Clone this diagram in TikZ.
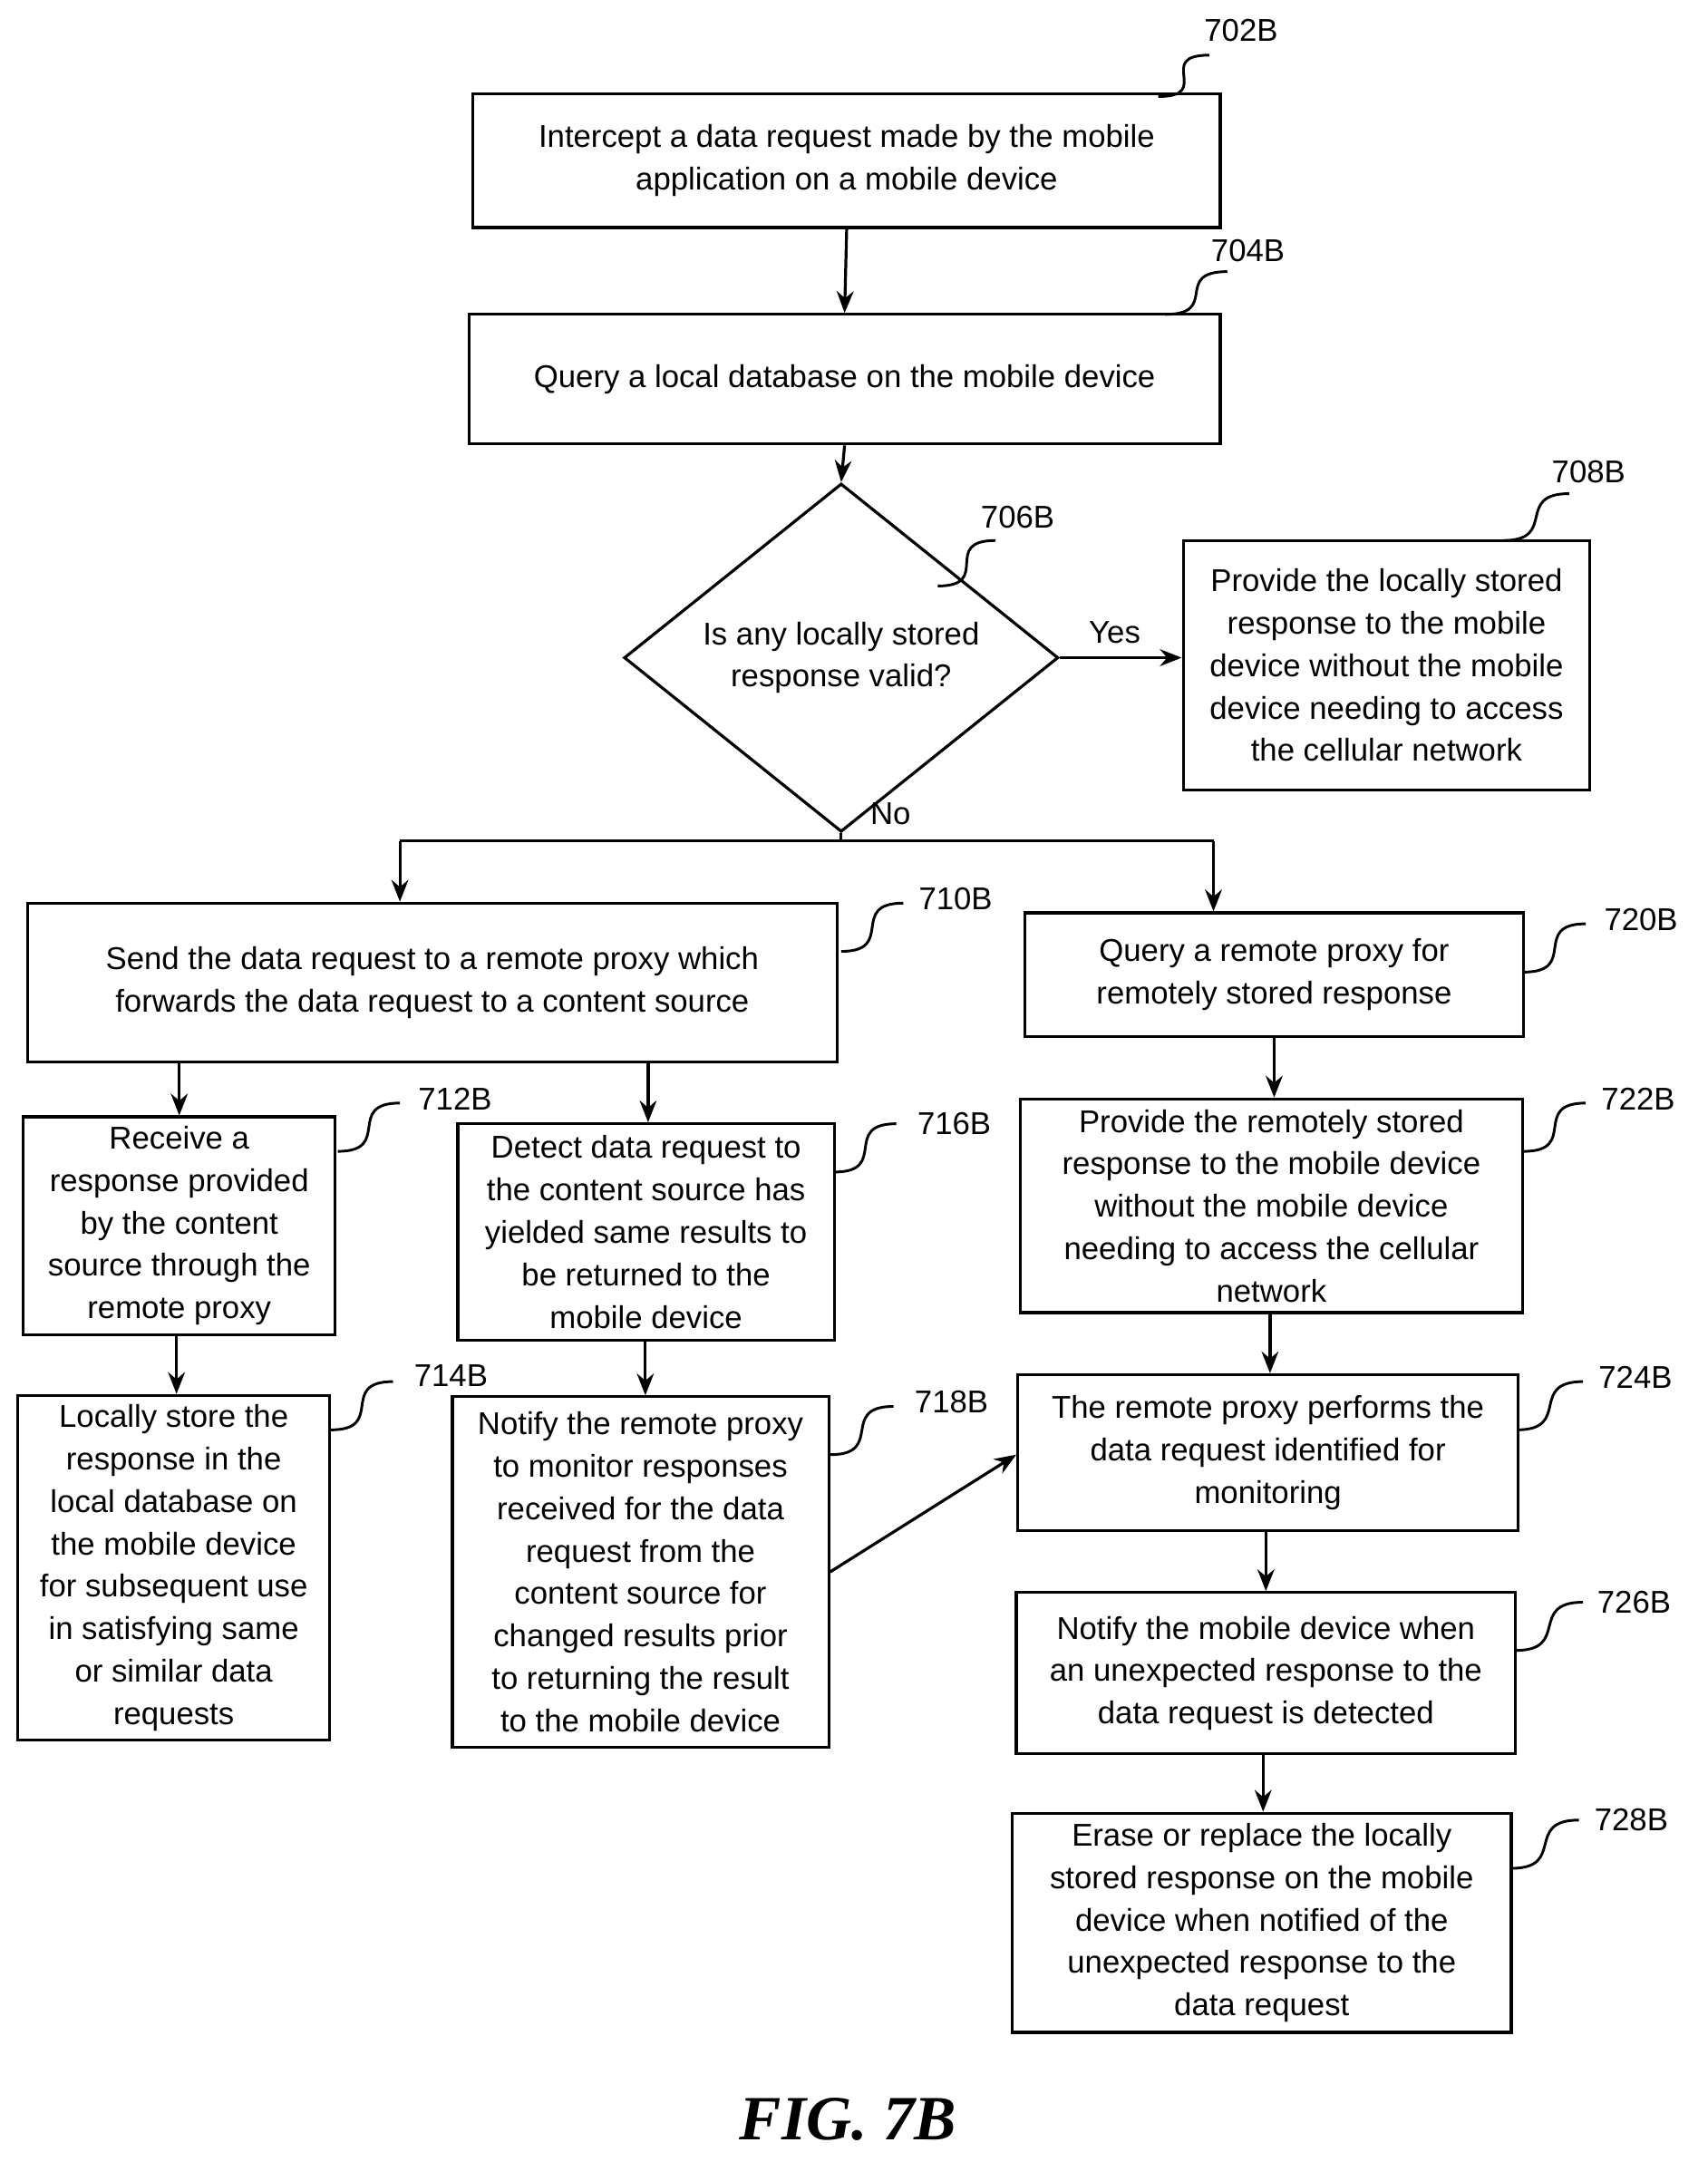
\documentclass[tikz,border=0pt]{standalone}
\usepackage{fontspec}
\setmainfont{Liberation Sans}
\usetikzlibrary{shapes.geometric,arrows.meta}
\begin{document}
\begin{tikzpicture}[x=0.02cm,y=-0.02cm,
 box/.style={draw,line width=1.2pt,align=center,inner sep=2pt,font=\fontsize{13}{17.5}\selectfont},
 arr/.style={line width=1.2pt,-{Stealth[length=9pt,width=7pt]}},
 lbl/.style={font=\fontsize{13}{15}\selectfont},
 lead/.style={line width=1.1pt}]
\useasboundingbox (0,0) rectangle (1238,1568);
\node[box,minimum width=10.84cm,minimum height=1.94cm] (n702) at (614,116.5) {Intercept a data request made by the mobile\\application on a mobile device};
\node[box,minimum width=10.9cm,minimum height=1.88cm] (n704) at (612.5,275) {Query a local database on the mobile device};
\node[draw,line width=1.2pt,diamond,minimum width=6.3cm,minimum height=3.58cm,inner sep=0pt,align=center,font=\fontsize{13}{17.5}\selectfont] (n706) at (610,477) {Is any locally stored\\response valid?};
\node[box,minimum width=5.9cm,minimum height=3.62cm] (n708) at (1005.5,482.5) {Provide the locally stored\\response to the mobile\\device without the mobile\\device needing to access\\the cellular network};
\node[box,minimum width=11.74cm,minimum height=2.3cm] (n710) at (313.5,712.5) {Send the data request to a remote proxy which\\forwards the data request to a content source};
\node[box,minimum width=7.24cm,minimum height=1.8cm] (n720) at (924,707) {Query a remote proxy for\\remotely stored response};
\node[box,minimum width=4.52cm,minimum height=3.16cm] (n712) at (130,889) {Receive a\\response provided\\by the content\\source through the\\remote proxy};
\node[box,minimum width=5.46cm,minimum height=3.14cm] (n716) at (468.5,893.5) {Detect data request to\\the content source has\\yielded same results to\\be returned to the\\mobile device};
\node[box,minimum width=7.28cm,minimum height=3.1cm] (n722) at (922,874.5) {Provide the remotely stored\\response to the mobile device\\without the mobile device\\needing to access the cellular\\network};
\node[box,minimum width=4.52cm,minimum height=5.0cm] (n714) at (126,1137) {Locally store the\\response in the\\local database on\\the mobile device\\for subsequent use\\in satisfying same\\or similar data\\requests};
\node[box,minimum width=5.46cm,minimum height=5.08cm] (n718) at (464.5,1140) {Notify the remote proxy\\to monitor responses\\received for the data\\request from the\\content source for\\changed results prior\\to returning the result\\to the mobile device};
\node[box,minimum width=7.26cm,minimum height=2.26cm] (n724) at (919.5,1053.5) {The remote proxy performs the\\data request identified for\\monitoring};
\node[box,minimum width=7.24cm,minimum height=2.34cm] (n726) at (918,1213.5) {Notify the mobile device when\\an unexpected response to the\\data request is detected};
\node[box,minimum width=7.24cm,minimum height=3.18cm] (n728) at (915,1394.5) {Erase or replace the locally\\stored response on the mobile\\device when notified of the\\unexpected response to the\\data request};
\node[font=\fontsize{26}{28}\selectfont\itshape\bfseries\rmfamily] (fig) at (615,1537) {\fontspec{Liberation Serif}FIG. 7B};
% arrows
\draw[arr] (n702.south) -- (n704.north);
\draw[arr] (n704.south) -- (n706.north);
\draw[arr] (n706.east) -- node[above,lbl,pos=0.45,yshift=2pt] (yes) {Yes} (n708.west |- n706.east);
\coordinate (split) at (610,610);
\coordinate (sl) at (290,610);
\coordinate (sr) at (880,610);
\draw[line width=1.2pt] (n706.south) -- (split);
\node[lbl,anchor=west] (no) at (625,590) {No};
\draw[line width=1.2pt] (sl) -- (sr);
\draw[arr] (sl) -- (sl |- n710.north);
\draw[arr] (sr) -- (sr |- n720.north);
\coordinate (a1) at (130,770); \coordinate (a2) at (470,770);
\draw[arr] (a1) -- (a1 |- n712.north);
\draw[arr] (a2) -- (a2 |- n716.north);
\draw[arr] (n712.south -| 128,0) -- (n714.north -| 128,0);
\draw[arr] (n716.south -| 468,0) -- (n718.north -| 468,0);
\draw[arr] (n720.south) -- (n722.north -| n720.south);
\draw[arr] (n722.south -| 921,0) -- (n724.north -| 921,0);
\draw[arr] (n724.south -| 918,0) -- (n726.north -| 918,0);
\draw[arr] (n726.south -| 916,0) -- (n728.north -| 916,0);
\draw[arr] (n718.east |- 0,1140) -- (n724.west |- 0,1055);
% leaders and labels
\foreach \sx/\sy/\ex/\ey/\t/\lx/\ly in {
 840/70/877/40/702B/900/22, 845/228/890/197/704B/905/182, 680/425/722/392/706B/738/375,
 1090/392/1138/358/708B/1152/342, 610/690/655/655/710B/693/652, 1105/705/1150/670/720B/1190/667,
 245/835/290/800/712B/330/797, 605/850/650/815/716B/692/815, 1105/835/1150/800/722B/1188/797,
 240/1037/285/1002/714B/327/998, 602/1055/648/1020/718B/690/1017, 1100/1037/1148/1002/724B/1186/999,
 1099/1197/1148/1162/726B/1185/1162, 1096/1355/1145/1320/728B/1183/1320}{
 \draw[lead] (\sx,\sy) .. controls (\sx+40,\sy) and (\ex-40,\ey) .. (\ex,\ey);
 \node[lbl] at (\lx,\ly) {\t};
}
\end{tikzpicture}
\end{document}
